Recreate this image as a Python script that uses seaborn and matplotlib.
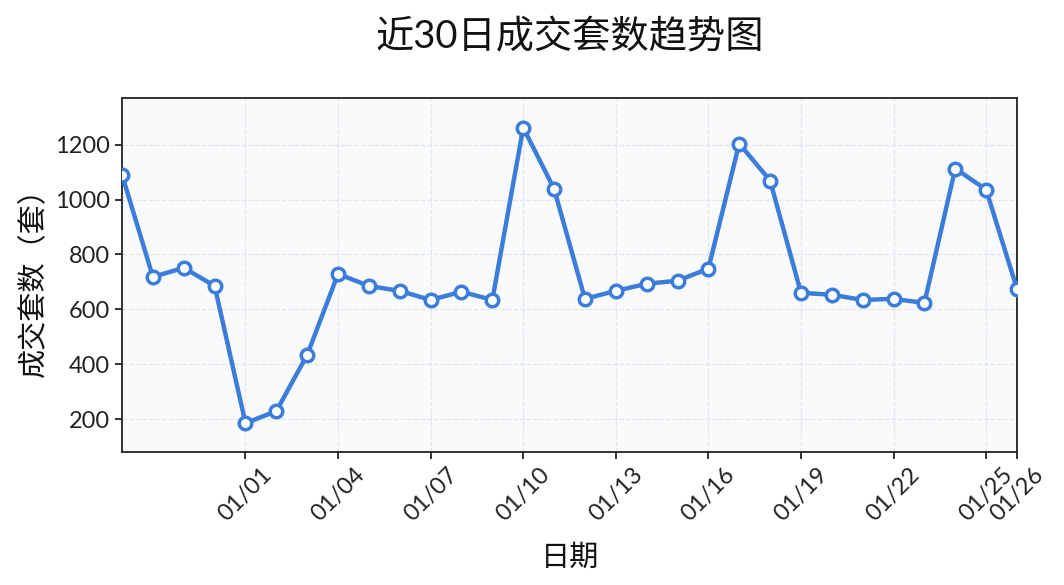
import matplotlib
matplotlib.use("Agg")
import matplotlib.pyplot as plt
import matplotlib.dates as mdates
import seaborn as sns
import pandas as pd
import numpy as np

dates = pd.date_range("2024-12-28", "2025-01-26", freq="D")
values = [1090, 718, 751, 685, 185, 229, 434, 729, 685, 667,
          634, 664, 634, 1262, 1039, 638, 667, 693, 704, 748,
          1204, 1069, 660, 653, 634, 638, 623, 1113, 1036, 675]
tick_dates = ["2025-01-01", "2025-01-04", "2025-01-07", "2025-01-10", "2025-01-13",
              "2025-01-16", "2025-01-19", "2025-01-22", "2025-01-25", "2025-01-26"]
title = "近30日成交套数趋势图"
xlabel = "日期"
ylabel = "成交套数（套）"

df = pd.DataFrame({"date": dates, "count": values})

sns.set_theme(style="ticks")
plt.rcParams["font.family"] = ["Lato", "Noto Sans CJK SC", "DejaVu Sans"]
plt.rcParams["axes.unicode_minus"] = False

fig = plt.figure(figsize=(10.64, 5.85), dpi=100)
ax = fig.add_axes([0.1147, 0.2274, 0.8411, 0.6051])
ax.set_facecolor("#f8fafc")

sns.lineplot(data=df, x="date", y="count", ax=ax, color="#3b7dd8", linewidth=3.2,
             marker="o", markersize=9, markerfacecolor="white",
             markeredgecolor="#3b7dd8", markeredgewidth=2.5, zorder=3)

ax.set_xlim(dates[0], dates[-1])
ax.set_ylim(80, 1370)
ax.set_yticks([200, 400, 600, 800, 1000, 1200])
ax.set_xticks(pd.to_datetime(tick_dates))
ax.xaxis.set_major_formatter(mdates.DateFormatter("%m/%d"))
plt.setp(ax.get_xticklabels(), rotation=45, ha="center")

ax.grid(True, linestyle="--", color="#dde1e6", linewidth=0.9, alpha=0.8)
for s in ax.spines.values():
    s.set_color("#222222")
    s.set_linewidth(1.3)
ax.tick_params(axis="both", labelsize=17, colors="#222222", width=1.3, length=5)

ax.set_xlabel(xlabel, fontsize=21, color="#111111", labelpad=14)
ax.set_ylabel(ylabel, fontsize=21, color="#111111", labelpad=6)
ax.set_title(title, fontsize=27.5, color="#111111", pad=36)

fig.savefig("out.png", dpi=100)
